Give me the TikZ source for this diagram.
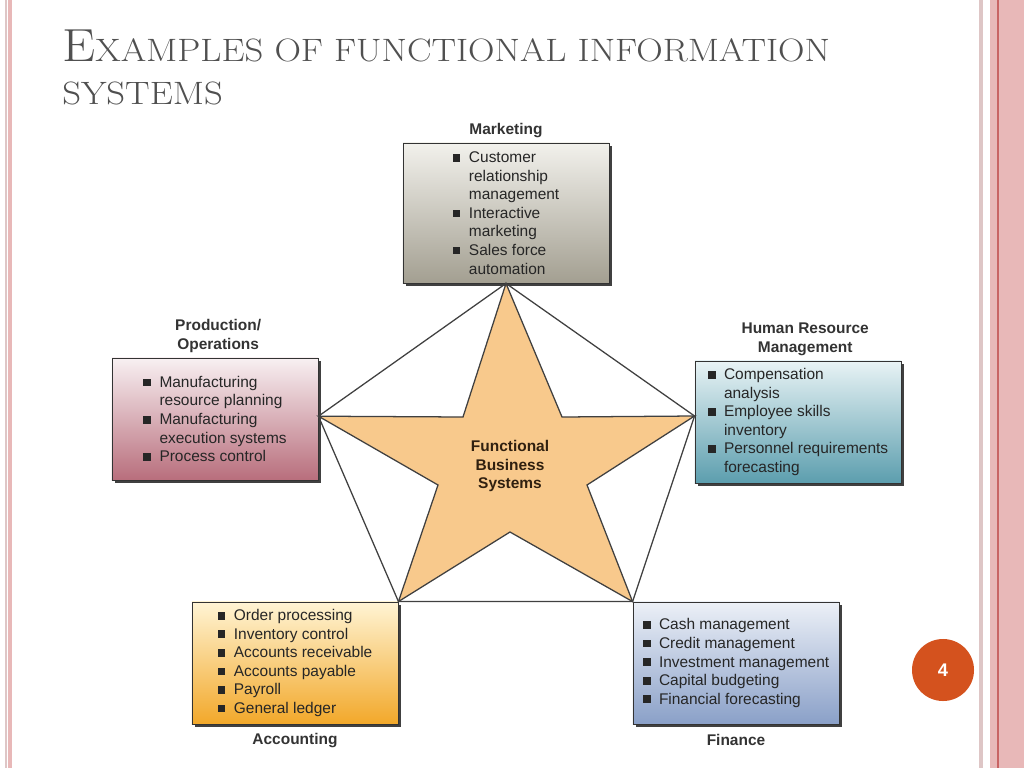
\documentclass[tikz,border=0pt]{standalone}
\usepackage{fontspec}
\setsansfont{Liberation Sans}
\usepackage{tikz}
\usetikzlibrary{positioning,shadows}
\definecolor{titlegray}{RGB}{80,80,80}
\definecolor{slidepink}{RGB}{232,184,184}
\definecolor{slidered}{RGB}{200,100,100}
\definecolor{slidegray}{RGB}{222,198,198}
\definecolor{starorange}{RGB}{248,201,140}
\definecolor{pagered}{RGB}{212,82,30}
\definecolor{mkttop}{RGB}{242,241,236}
\definecolor{mktbot}{RGB}{163,159,145}
\definecolor{prodtop}{RGB}{248,240,242}
\definecolor{prodbot}{RGB}{184,110,124}
\definecolor{hrtop}{RGB}{232,243,245}
\definecolor{hrbot}{RGB}{92,158,174}
\definecolor{acctop}{RGB}{255,244,212}
\definecolor{accbot}{RGB}{242,168,42}
\definecolor{fintop}{RGB}{236,240,247}
\definecolor{finbot}{RGB}{138,160,200}
\newcommand{\bul}{\makebox[1.05em][l]{\rule[0.12ex]{0.5em}{0.5em}}}
\newcommand{\ind}{\hspace*{1.05em}}

\begin{document}
\begin{tikzpicture}[x=0.025cm,y=-0.025cm,
  fbox/.style={draw=black!80, line width=0.6pt, minimum width=5.15cm, minimum height=3.05cm,
    align=left, text=black!85, font=\sffamily\fontsize{11}{13.2}\selectfont,
    general shadow={fill=black!75, shadow xshift=2.2pt, shadow yshift=-2.2pt}},
  lbl/.style={align=center, text=black!80, font=\sffamily\bfseries\fontsize{11}{13.4}\selectfont},
  edge/.style={draw=black!75, line width=0.9pt},
  ttl/.style={inner sep=0pt, text=titlegray, anchor=base west}]
\useasboundingbox (0,0) rectangle (1024,768);
\fill[white] (0,0) rectangle (1024,768);
% slide edges
\fill[slidegray] (4.5,0) rectangle (6.5,768);
\fill[slidepink] (8,0) rectangle (12,768);
\fill[slidegray] (979,0) rectangle (983,768);
\fill[slidepink] (990,0) rectangle (1024,768);
\fill[slidered] (997,0) rectangle (999,768);

% title
\node[ttl] (ttl1) at (62,62) {\scalebox{1.135}[1]{\fontsize{33}{40}\selectfont E\fontsize{23}{28}\selectfont XAMPLES OF FUNCTIONAL INFORMATION}};
\node[ttl] (ttl2) at (62,105) {\scalebox{1.135}[1]{\fontsize{23}{28}\selectfont SYSTEMS}};

% functional areas
\node[fbox, top color=mkttop, bottom color=mktbot, minimum height=3.5cm] (mkt) at (506,213)
  {\bul Customer\\ \ind relationship\\ \ind management\\ \bul Interactive\\ \ind marketing\\ \bul Sales force\\ \ind automation};
\node[fbox, top color=prodtop, bottom color=prodbot] (prod) at (215,419)
  {\bul Manufacturing\\ \ind resource planning\\ \bul Manufacturing\\ \ind execution systems\\ \bul Process control};
\node[fbox, top color=hrtop, bottom color=hrbot] (hr) at (798,422)
  {\bul Compensation\\ \ind analysis\\ \bul Employee skills\\ \ind inventory\\ \bul Personnel requirements\\ \ind forecasting};
\node[fbox, top color=acctop, bottom color=accbot] (acc) at (295,663)
  {\bul Order processing\\ \bul Inventory control\\ \bul Accounts receivable\\ \bul Accounts payable\\ \bul Payroll\\ \bul General ledger};
\node[fbox, top color=fintop, bottom color=finbot] (fin) at (736,663)
  {\bul Cash management\\ \bul Credit management\\ \bul Investment management\\ \bul Capital budgeting\\ \bul Financial forecasting};

\node[lbl, above=0pt of mkt] (mktlbl) {Marketing};
\node[lbl, above=0pt of prod, xshift=0.08cm] (prodlbl) {Production/\\Operations};
\node[lbl, above=0pt of hr, xshift=0.18cm] (hrlbl) {Human Resource\\Management};
\node[lbl, below=3pt of acc] (acclbl) {Accounting};
\node[lbl, below=3.5pt of fin] (finlbl) {Finance};

% star points
\coordinate (sT) at (mkt.south);
\coordinate (sL) at ([yshift=0.07cm]prod.east);
\coordinate (sR) at ([yshift=0.15cm]hr.west);
\coordinate (sBL) at (acc.north east);
\coordinate (sBR) at (fin.north west);

\filldraw[fill=starorange, edge] (sT) -- (562,417) -- (sR) -- (587,485) -- (sBR)
  -- (510,532) -- (sBL) -- (438,485) -- (sL) -- (463,417) -- cycle;
\draw[edge] (sT) -- (sL) -- (sBL) -- (sBR) -- (sR) -- cycle;
\node[lbl, text=black!75!brown] (core) at (510,466) {Functional\\Business\\Systems};

% page number
\node[circle, fill=pagered, minimum size=1.55cm, text=white,
  font=\sffamily\bfseries\fontsize{13}{15}\selectfont] (pg) at (943,670) {4};
\end{tikzpicture}
\end{document}
